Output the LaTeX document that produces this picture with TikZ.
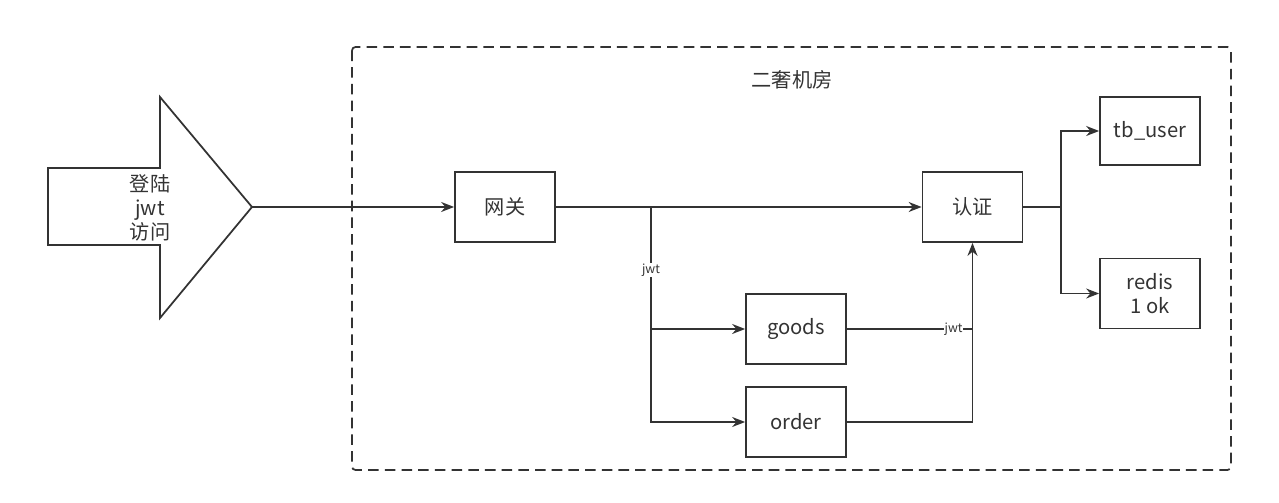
\documentclass[tikz,border=0pt]{standalone}
\usepackage{fontspec}
\setmainfont{Noto Sans CJK SC}
\usetikzlibrary{positioning,arrows.meta}
\definecolor{ink}{HTML}{333333}

\begin{document}
\begin{tikzpicture}[x=0.02cm,y=-0.02cm,>={Stealth[length=2.6mm,width=2mm]},
  line width=1pt,draw=ink,text=ink,
  every node/.style={font=\fontsize{11.5}{13.6}\selectfont},
  box/.style={draw=ink,line width=1pt,minimum width=2cm,minimum height=1.4cm,align=center},
  lbl/.style={font=\fontsize{7}{8}\selectfont,fill=white,inner sep=0.4pt}]
\useasboundingbox (0,0) rectangle (1279,503);
% machine room frame
\draw[ink,dash pattern=on 6pt off 3.5pt,rounded corners=2pt] (352,47) rectangle (1231,470);
\node (room) at (792,80) {二奢机房};
% entry arrow
\draw[ink] (48,168) -- (160,168) -- (160,97) -- (252,207) -- (160,318) -- (160,245) -- (48,245) -- cycle;
\coordinate (tip) at (252,207);
\node (login) [align=center] at (150,208) {登陆\\jwt\\访问};
% boxes
\node[box] (gw) at (505,207) {网关};
\node[box] (auth) at (972.5,207) {认证};
\node[box] (goods) at (796,329) {goods};
\node[box] (order) at (796,422) {order};
\node[box,minimum height=1.36cm] (user) at (1150,131) {tb\_user};
\node[box] (redis) at (1150,293.5) {redis\\1 ok};
\coordinate (split) at (651,207);
\coordinate (fork) at (1061,207);
% connectors
\draw[->] (tip) -- (gw);
\draw[->] (gw) -- (auth);
\draw[->] (split) |- (goods);
\draw[->] (split) |- (order);
\node[lbl] (jwta) at (651,270) {jwt};
\draw (goods) -- (goods -| auth) node[lbl,pos=0.85] (jwtb) {jwt};
\draw[->] (order) -| (auth);
\draw (auth) -- (fork);
\draw[->] (fork) |- (user);
\draw[->] (fork) |- (redis);
\end{tikzpicture}
\end{document}
